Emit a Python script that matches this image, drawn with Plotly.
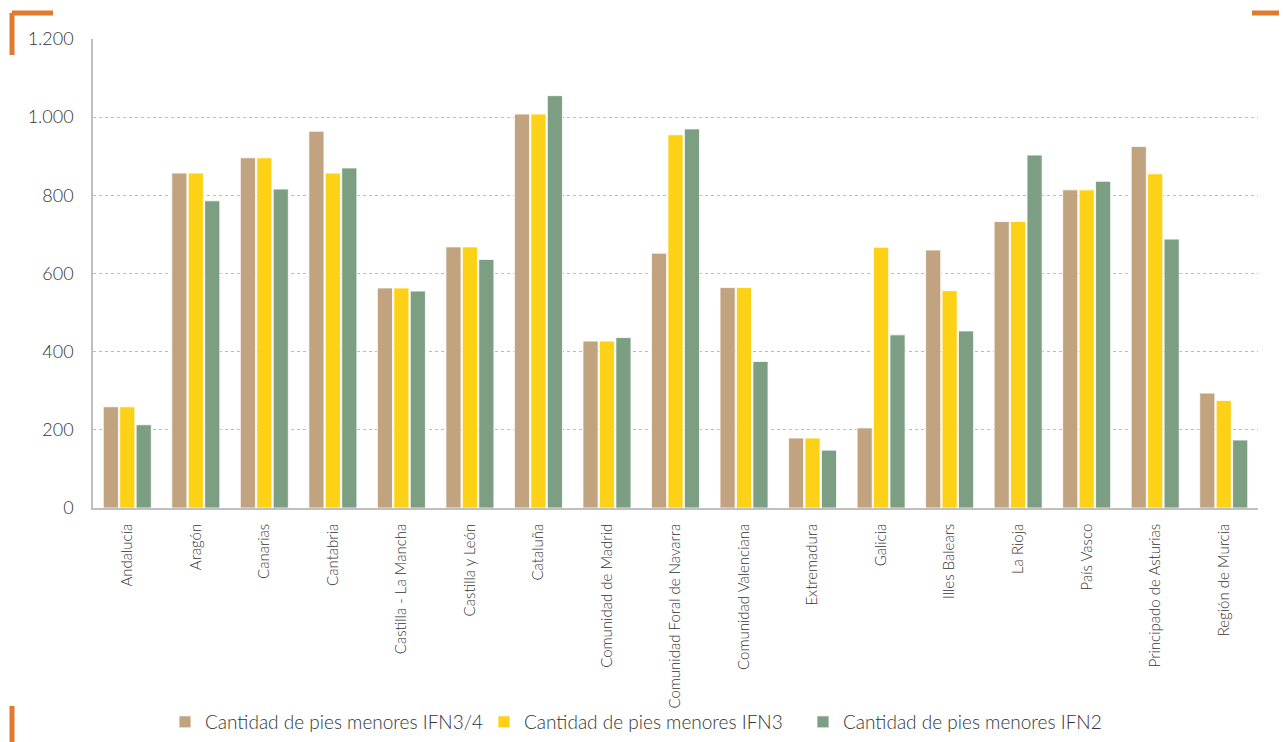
import plotly.graph_objects as go

categories = ["Andalucía", "Aragón", "Canarias", "Cantabria", "Castilla - La Mancha",
              "Castilla y León", "Cataluña", "Comunidad de Madrid", "Comunidad Foral de Navarra",
              "Comunidad Valenciana", "Extremadura", "Galicia", "Illes Balears", "La Rioja",
              "País Vasco", "Principado de Asturias", "Región de Murcia"]
ifn34 = [259, 857, 896, 964, 563, 668, 1008, 427, 652, 564, 179, 205, 660, 733, 814, 925, 294]
ifn3 = [259, 857, 896, 857, 563, 668, 1008, 427, 955, 564, 179, 667, 556, 733, 814, 855, 275]
ifn2 = [213, 786, 816, 870, 555, 636, 1055, 436, 970, 375, 148, 443, 453, 903, 836, 688, 174]
series_names = ["Cantidad de pies menores IFN3/4", "Cantidad de pies menores IFN3",
                "Cantidad de pies menores IFN2"]
colors = ["#C1A47F", "#FDD116", "#7C9F84"]
y_ticks = [0, 200, 400, 600, 800, 1000, 1200]

fig = go.Figure()
for name, vals, c in zip(series_names, [ifn34, ifn3, ifn2], colors):
    fig.add_trace(go.Bar(x=categories, y=vals, name=name, marker_color=c,
                         marker_line_color="rgba(255,255,255,0.8)", marker_line_width=1))

FONT = "Lato Light, Lato, sans-serif"
OFF = 8  # page body margin
W, H = 1287 - OFF, 742 - OFF
L, R, T, B = 93 - OFF, 1258 - OFF, 39 - OFF, 508 - OFF

fig.update_layout(
    width=W, height=H,
    margin=dict(l=L, r=W - R, t=T, b=H - B, autoexpand=False),
    paper_bgcolor="white", plot_bgcolor="white",
    separators=",.",
    barmode="group", bargap=0.28, bargroupgap=0.08,
    font=dict(family=FONT, size=17, color="#333333", weight=300),
    showlegend=True,
    legend=dict(orientation="h", xref="container", yref="container",
                x=(205 - 40 - OFF) / W, xanchor="left",
                y=1 - (722 - OFF) / H, yanchor="middle",
                bgcolor="rgba(0,0,0,0)",
                font=dict(size=19, family=FONT, color="#333333", weight=300),
                itemwidth=30, traceorder="normal", entrywidth=274, entrywidthmode="pixels"),
    xaxis=dict(showline=True, linecolor="#BFBFBF", linewidth=1.5, ticks="", tickangle=-90,
               tickfont=dict(size=15, family=FONT, color="#333333", weight=300),
               ticklabelstandoff=8,
               showgrid=False, automargin=False),
    yaxis=dict(range=[0, 1200], tickvals=y_ticks, tickformat=",d",
               showline=True, linecolor="#BFBFBF", linewidth=1.5,
               showgrid=True, gridcolor="#BBBBBB", griddash="dot", gridwidth=1,
               tickfont=dict(size=18, family=FONT, color="#333333", weight=300),
               ticks="", ticklabelstandoff=14, zeroline=False, automargin=False),
)

def px(x):
    return (x - OFF - L) / (R - L)
def py(y):
    return (B - (y - OFF)) / (B - T)
orange = "#E07A2E"
lines = [((12, 13), (53, 13)), ((12, 13), (12, 55)), ((1252, 13), (1290, 13)), ((12, 706), (12, 745))]
for (x0, y0), (x1, y1) in lines:
    fig.add_shape(type="line", xref="paper", yref="paper",
                  x0=px(x0), y0=py(y0), x1=px(x1), y1=py(y1),
                  line=dict(color=orange, width=5))

fig.write_html("out.html")
